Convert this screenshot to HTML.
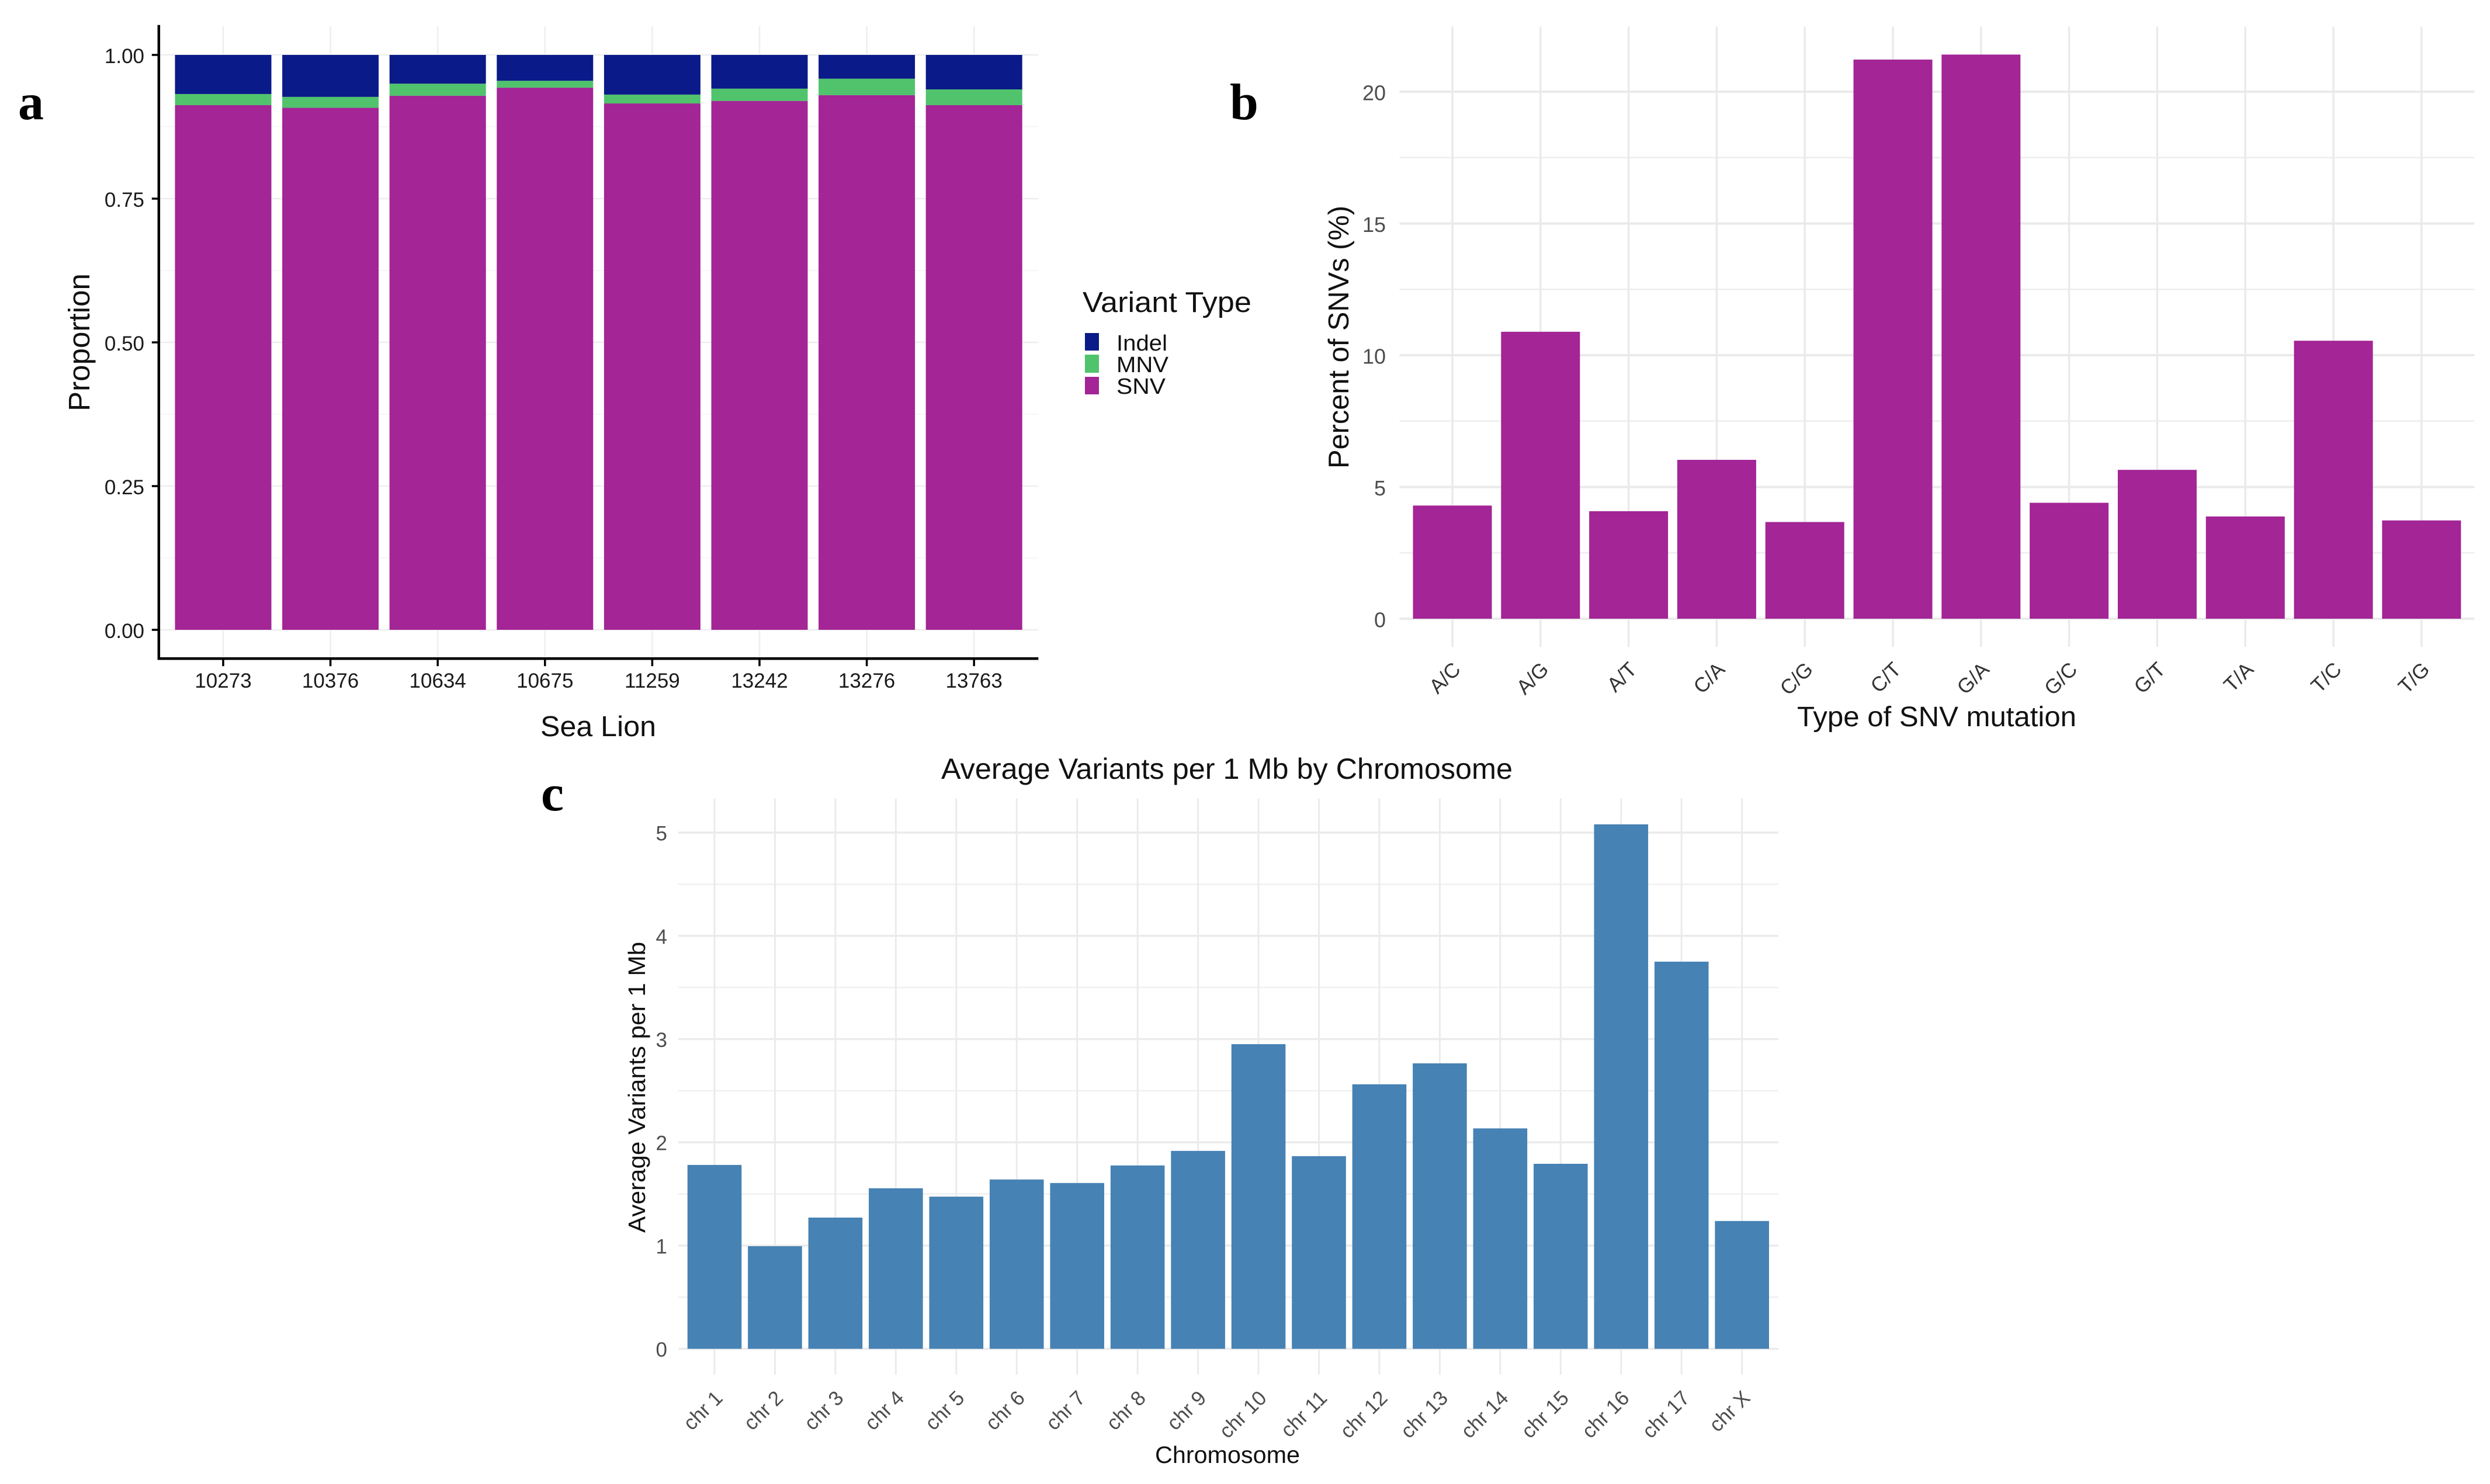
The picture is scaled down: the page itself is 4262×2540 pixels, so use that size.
<!DOCTYPE html>
<html lang="en">
<head>
<meta charset="utf-8">
<title>Sea lion variant summary</title>
<style>
html,body{margin:0;padding:0;background:#fff;}
svg{display:block;}
text{font-family:"Liberation Sans",Arial,sans-serif;}
.tag{font-family:"Liberation Serif",serif;font-weight:bold;font-size:88px;fill:#000;}
.title{fill:#111;}
</style>
</head>
<body>
<svg id="figure" xmlns="http://www.w3.org/2000/svg" width="4262" height="2540" viewBox="0 0 4262 2540">
  <rect x="0" y="0" width="4262" height="2540" fill="#ffffff"/>

  <g id="panelA"></g>
  <g id="panelB"></g>
  <g id="panelC"></g>

  <text class="tag" x="31" y="204">a</text>
  <text class="tag" x="2105" y="204">b</text>
  <text class="tag" x="926" y="1387">c</text>

  <text class="title" transform="translate(153,586) rotate(-90)" text-anchor="middle" font-size="51" textLength="236" lengthAdjust="spacingAndGlyphs">Proportion</text>
  <text class="title" x="1024" y="1260" text-anchor="middle" font-size="49" textLength="198" lengthAdjust="spacingAndGlyphs">Sea Lion</text>

  <g>
    <text class="title" x="1853" y="534" font-size="49" textLength="289" lengthAdjust="spacingAndGlyphs">Variant Type</text>
    <rect x="1857" y="570" width="24" height="30" fill="#0a1a88"/>
    <rect x="1857" y="607" width="24" height="31" fill="#50c36c"/>
    <rect x="1857" y="645" width="24" height="30" fill="#a32596"/>
    <text class="title" x="1911" y="600" font-size="38" textLength="87" lengthAdjust="spacingAndGlyphs">Indel</text>
    <text class="title" x="1911" y="637" font-size="38" textLength="89" lengthAdjust="spacingAndGlyphs">MNV</text>
    <text class="title" x="1911" y="674" font-size="38" textLength="84" lengthAdjust="spacingAndGlyphs">SNV</text>
  </g>

  <text class="title" transform="translate(2308,577) rotate(-90)" text-anchor="middle" font-size="49" textLength="450" lengthAdjust="spacingAndGlyphs">Percent of SNVs (%)</text>
  <text class="title" x="3315" y="1243" text-anchor="middle" font-size="48" textLength="478" lengthAdjust="spacingAndGlyphs">Type of SNV mutation</text>

  <text class="title" x="2100" y="1333" text-anchor="middle" font-size="50" textLength="978" lengthAdjust="spacingAndGlyphs">Average Variants per 1 Mb by Chromosome</text>
  <text class="title" transform="translate(1104,1861) rotate(-90)" text-anchor="middle" font-size="41" textLength="498" lengthAdjust="spacingAndGlyphs">Average Variants per 1 Mb</text>
  <text class="title" x="2101" y="2504" text-anchor="middle" font-size="41" textLength="248" lengthAdjust="spacingAndGlyphs">Chromosome</text>
</svg>

<script>
/* Panel a data */
const seaLions = ['10273','10376','10634','10675','11259','13242','13276','13763'];
const snvProportion = [0.9126,0.908,0.929,0.943,0.9156,0.920,0.930,0.9126];
const mnvProportion = [0.0194,0.019,0.021,0.012,0.0154,0.0213,0.0286,0.0274];
const indelProportion = [0.068,0.073,0.050,0.045,0.069,0.0587,0.0414,0.060];
const proportionTickLabels = ['0.00','0.25','0.50','0.75','1.00'];
const proportionMinorTicks = [0.125,0.375,0.625,0.875];

/* Panel b data */
const mutationTypes = ['A/C','A/G','A/T','C/A','C/G','C/T','G/A','G/C','G/T','T/A','T/C','T/G'];
const mutationPercent = [4.295,10.89,4.08,6.03,3.67,21.22,21.41,4.40,5.65,3.88,10.55,3.73];
const percentTickLabels = ['0','5','10','15','20'];
const percentMinorTicks = [2.5,7.5,12.5,17.5];

/* Panel c data */
const chromosomes = ['chr 1','chr 2','chr 3','chr 4','chr 5','chr 6','chr 7','chr 8','chr 9','chr 10','chr 11','chr 12','chr 13','chr 14','chr 15','chr 16','chr 17','chr X'];
const variantsPerMb = [1.781,0.994,1.271,1.555,1.474,1.640,1.606,1.776,1.917,2.951,1.866,2.562,2.765,2.135,1.792,5.08,3.75,1.238];
const variantsTickLabels = ['0','1','2','3','4','5'];
const variantsMinorTicks = [0.5,1.5,2.5,3.5,4.5];

const SVG_NS = 'http://www.w3.org/2000/svg';

function make(parent, tag, attrs, content) {
  const el = document.createElementNS(SVG_NS, tag);
  for (const key in attrs) el.setAttribute(key, attrs[key]);
  if (content !== undefined) el.textContent = content;
  parent.appendChild(el);
  return el;
}

/* Axis functions */
function xA(i) { return 382 + i * 183.6; }
function yA(v) { return 1078 - v * 984; }
function xB(i) { return 2486 + i * 150.8; }
function yB(v) { return 1059 - v * 45.1; }
function xC(i) { return 1223 + i * 103.45; }
function yC(v) { return 2308.6 - v * 176.7; }

/* ---------- Panel a ---------- */
const panelA = document.getElementById('panelA');
const aLeft = xA(-0.6), aRight = xA(seaLions.length - 1 + 0.6), aTop = yA(1.05), aBottom = yA(-0.05);

proportionMinorTicks.forEach(function (v) {
  const el = make(panelA, 'line', {x1: aLeft, x2: aRight, y1: yA(v), y2: yA(v), stroke: '#f3f3f3', 'stroke-width': 1.5});
  
  
});
proportionTickLabels.forEach(function (label) {
  const v = parseFloat(label);
  const el = make(panelA, 'line', {x1: aLeft, x2: aRight, y1: yA(v), y2: yA(v), stroke: '#eeeeee', 'stroke-width': 2.5});
  
  
});
seaLions.forEach(function (name, i) {
  const grid = make(panelA, 'line', {x1: xA(i), x2: xA(i), y1: aTop, y2: aBottom, stroke: '#eeeeee', 'stroke-width': 2.5});
  
  
});
seaLions.forEach(function (name, i) {
  const w = 165;
  const x = xA(i) - w / 2;
  const s = snvProportion[i], m = mnvProportion[i], d = indelProportion[i];
  const snvBar = make(panelA, 'rect', {x: x, width: w, y: yA(s), height: yA(0) - yA(s), fill: '#a32596'});
  
  
  const mnvBar = make(panelA, 'rect', {x: x, width: w, y: yA(s + m), height: yA(s) - yA(s + m), fill: '#50c36c'});
  
  
  const indelBar = make(panelA, 'rect', {x: x, width: w, y: yA(s + m + d), height: yA(s + m) - yA(s + m + d), fill: '#0a1a88'});
  
  

  const tick = make(panelA, 'line', {x1: xA(i), x2: xA(i), y1: aBottom, y2: aBottom + 13, stroke: '#000', 'stroke-width': 3.5});
  
  
  const label = make(panelA, 'text', {x: xA(i), y: 1177, 'text-anchor': 'middle', 'font-size': 35, fill: '#1a1a1a'}, name);
  
  
});
proportionTickLabels.forEach(function (text) {
  const v = parseFloat(text);
  const tick = make(panelA, 'line', {x1: aLeft - 12, x2: aLeft, y1: yA(v), y2: yA(v), stroke: '#000', 'stroke-width': 3.5});
  
  
  const label = make(panelA, 'text', {x: 247, y: yA(v) + 14, 'text-anchor': 'end', 'font-size': 35, fill: '#1a1a1a'}, text);
  
  
});
const aYAxis = make(panelA, 'line', {x1: aLeft, x2: aLeft, y1: aTop - 2, y2: aBottom + 2, stroke: '#000', 'stroke-width': 4.5});


const aXAxis = make(panelA, 'line', {x1: aLeft - 2, x2: aRight, y1: aBottom, y2: aBottom, stroke: '#000', 'stroke-width': 4.5});



/* ---------- Panel b ---------- */
const panelB = document.getElementById('panelB');
const bLeft = xB(-0.6), bRight = xB(mutationTypes.length - 1 + 0.6), bTop = yB(22.47), bBottom = yB(-1.07);

percentMinorTicks.forEach(function (v) {
  const el = make(panelB, 'line', {x1: bLeft, x2: bRight, y1: yB(v), y2: yB(v), stroke: '#eeeeee', 'stroke-width': 2.5});
  
  
});
percentTickLabels.forEach(function (text) {
  const v = parseFloat(text);
  const el = make(panelB, 'line', {x1: bLeft, x2: bRight, y1: yB(v), y2: yB(v), stroke: '#eaeaea', 'stroke-width': 4});
  
  
  const label = make(panelB, 'text', {x: 2372, y: yB(v) + 14.5, 'text-anchor': 'end', 'font-size': 36, fill: '#4d4d4d'}, text);
  
  
});
mutationTypes.forEach(function (name, i) {
  const grid = make(panelB, 'line', {x1: xB(i), x2: xB(i), y1: bTop, y2: bBottom, stroke: '#eaeaea', 'stroke-width': 3.5});
  
  
});
mutationTypes.forEach(function (name, i) {
  const w = 135;
  const bar = make(panelB, 'rect', {x: xB(i) - w / 2, width: w, y: yB(mutationPercent[i]), height: yB(0) - yB(mutationPercent[i]), fill: '#a32596'});
  
  
  const ax = xB(i) + 16, ay = 1148;
  const label = make(panelB, 'text', {transform: 'translate(' + ax + ',' + ay + ') rotate(-45)', 'text-anchor': 'end', 'font-size': 35, fill: '#333333'}, name);
  
  
});

/* ---------- Panel c ---------- */
const panelC = document.getElementById('panelC');
const cLeft = xC(-0.6), cRight = xC(chromosomes.length - 1 + 0.6), cTop = yC(5.33), cBottom = yC(-0.25);

variantsMinorTicks.forEach(function (v) {
  const el = make(panelC, 'line', {x1: cLeft, x2: cRight, y1: yC(v), y2: yC(v), stroke: '#f0f0f0', 'stroke-width': 2.5});
  
  
});
variantsTickLabels.forEach(function (text) {
  const v = parseFloat(text);
  const el = make(panelC, 'line', {x1: cLeft, x2: cRight, y1: yC(v), y2: yC(v), stroke: '#ebebeb', 'stroke-width': 3.5});
  
  
  const label = make(panelC, 'text', {x: 1142, y: yC(v) + 13.5, 'text-anchor': 'end', 'font-size': 35, fill: '#4d4d4d'}, text);
  
  
});
chromosomes.forEach(function (name, i) {
  const grid = make(panelC, 'line', {x1: xC(i), x2: xC(i), y1: cTop, y2: cBottom, stroke: '#ebebeb', 'stroke-width': 3});
  
  
});
chromosomes.forEach(function (name, i) {
  const w = 92.6;
  const bar = make(panelC, 'rect', {x: xC(i) - w / 2, width: w, y: yC(variantsPerMb[i]), height: yC(0) - yC(variantsPerMb[i]), fill: '#4682b4'});
  
  
  const ax = xC(i) + 16, ay = 2395;
  const label = make(panelC, 'text', {transform: 'translate(' + ax + ',' + ay + ') rotate(-45)', 'text-anchor': 'end', 'font-size': 35, fill: '#4d4d4d'}, name);
  
  
});
</script>
</body>
</html>
